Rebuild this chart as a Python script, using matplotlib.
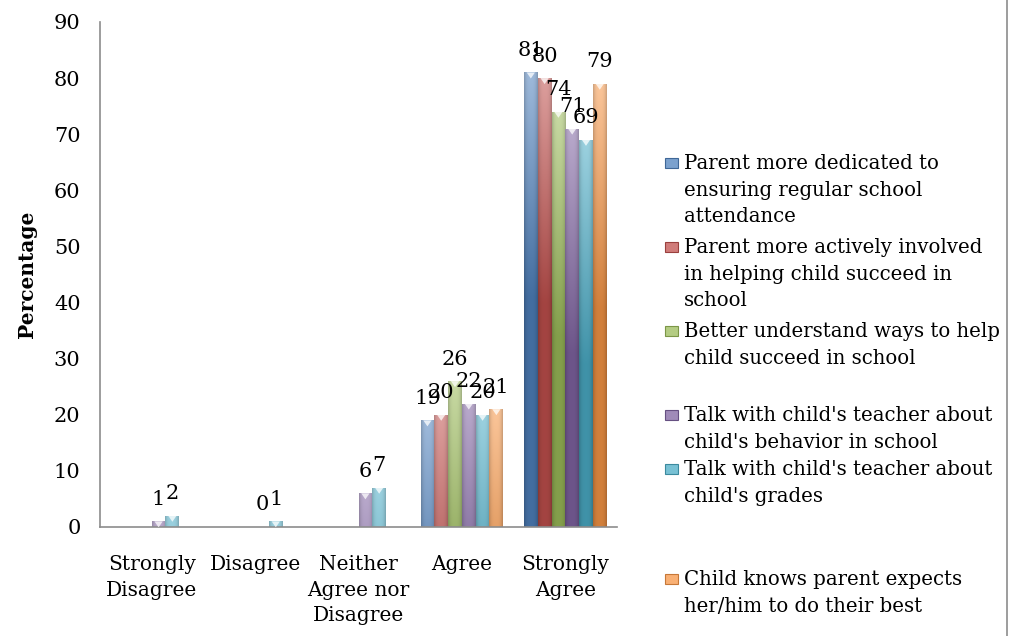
import numpy as np
import matplotlib
matplotlib.use("Agg")
import matplotlib.pyplot as plt
from matplotlib.patches import Rectangle, Polygon
from matplotlib.lines import Line2D
from matplotlib.colors import to_rgb

categories = ["Strongly\nDisagree", "Disagree", "Neither\nAgree nor\nDisagree",
              "Agree", "Strongly\nAgree"]
series_names = [
    "Parent more dedicated to\nensuring regular school\nattendance",
    "Parent more actively involved\nin helping child succeed in\nschool",
    "Better understand ways to help\nchild succeed in school",
    "Talk with child's teacher about\nchild's behavior in school",
    "Talk with child's teacher about\nchild's grades",
    "Child knows parent expects\nher/him to do their best",
]
nan = np.nan
dedicated = [nan, nan, nan, 19, 81]
involved = [nan, nan, nan, 20, 80]
understand = [nan, nan, nan, 26, 74]
behavior = [1, 0, 6, 22, 71]
grades = [2, 1, 7, 20, 69]
expects = [nan, nan, nan, 21, 79]
series_values = [dedicated, involved, understand, behavior, grades, expects]
colors = ["#4F81BD", "#C0504D", "#9BBB59", "#8064A2", "#4BACC6", "#F79646"]

FONT = "DejaVu Serif"
plt.rcParams["font.family"] = FONT

W, H = 1009, 636
fig = plt.figure(figsize=(W / 100, H / 100), dpi=100)
ax = fig.add_axes([100 / W, 1 - 527 / H, 517 / W, 505 / H])

n = len(series_values)
group_w = 0.8
bw = group_w / n
x = np.arange(len(categories))


def shaded_bar(ax, patch, base, ymax):
    """Fill a bar with a bevel-like gradient clipped to its rectangle."""
    x0, y0 = patch.get_x(), patch.get_y()
    w, h = patch.get_width(), patch.get_height()
    if not h > 0:
        return
    nx, ny = 24, 200
    rgb = np.array(to_rgb(base))
    light = rgb + (1 - rgb) * 0.45
    dark = rgb * 0.85
    ys = np.linspace(0, 1, ny)[:, None]          # 0 = top of bar
    dist = ys * h                                # distance from top, data units
    t = np.clip(dist / 40.0, 0, 1)
    col = light[None, None, :] * (1 - t[..., None]) + dark[None, None, :] * t[..., None]
    xs = np.linspace(-1, 1, nx)[None, :]
    edge = 1 - 0.18 * np.abs(xs) ** 3
    img = col * edge[..., None]
    img = np.clip(img, 0, 1)
    im = ax.imshow(img, extent=(x0, x0 + w, y0, y0 + h), origin="upper",
                   aspect="auto", interpolation="bilinear", zorder=2.5)
    im.set_clip_path(patch)
    # small highlight wedge at the top of the bar
    th = ymax * 6.0 / 505.0
    tri = Polygon([[x0 + w * 0.2, y0 + h], [x0 + w * 0.8, y0 + h],
                   [x0 + w * 0.5, y0 + h - th]], closed=True,
                  facecolor="white", edgecolor="none", alpha=0.75, zorder=2.6)
    ax.add_patch(tri)
    tri.set_clip_path(patch)


YMAX = 90
for i, (vals, c) in enumerate(zip(series_values, colors)):
    offs = (i - (n - 1) / 2) * bw
    vals = np.array(vals, dtype=float)
    bars = ax.bar(x + offs, np.nan_to_num(vals), bw, color=c, zorder=2,
                  edgecolor="none")
    for b, v in zip(bars, vals):
        if np.isnan(v):
            b.set_visible(False)
            continue
        shaded_bar(ax, b, c, YMAX)
        ax.annotate(f"{v:g}", (b.get_x() + b.get_width() / 2, v),
                    xytext=(0, 9), textcoords="offset points",
                    ha="center", va="bottom", fontsize=15, color="black",
                    zorder=5)

ax.set_xlim(-0.5, len(categories) - 0.5)
ax.set_ylim(0, YMAX)
ax.set_yticks(np.arange(0, 91, 10))
ax.set_xticks(x)
ax.set_xticklabels(categories, fontsize=14.5, linespacing=1.45)
ax.tick_params(axis="y", labelsize=15, length=0, pad=14)
ax.tick_params(axis="x", length=0, pad=20)
for s in ("top", "right"):
    ax.spines[s].set_visible(False)
for s in ("left", "bottom"):
    ax.spines[s].set_color("#8c8c8c")
    ax.spines[s].set_linewidth(1.2)
ax.set_ylabel("Percentage", fontsize=14.5, fontweight="bold", labelpad=12)

# legend, drawn by hand so each entry sits where its text block starts
line_centres = [163, 247, 331, 415, 469, 579]
for name, c, yc in zip(series_names, colors, line_centres):
    rgb = np.array(to_rgb(c))
    fig.patches.append(Rectangle((665 / W, 1 - (yc + 5) / H), 13 / W, 10 / H,
                                 transform=fig.transFigure,
                                 facecolor=rgb + (1 - rgb) * 0.25,
                                 edgecolor=rgb * 0.8, linewidth=0.8))
    fig.text(684 / W, 1 - (yc - 9) / H, name, ha="left", va="top",
             fontsize=14.2, linespacing=1.5)

fig.add_artist(Line2D([1006.5 / W, 1006.5 / W], [0, 1], transform=fig.transFigure,
                      color="#8c8c8c", linewidth=1.2))

fig.savefig("out.png", dpi=100)
